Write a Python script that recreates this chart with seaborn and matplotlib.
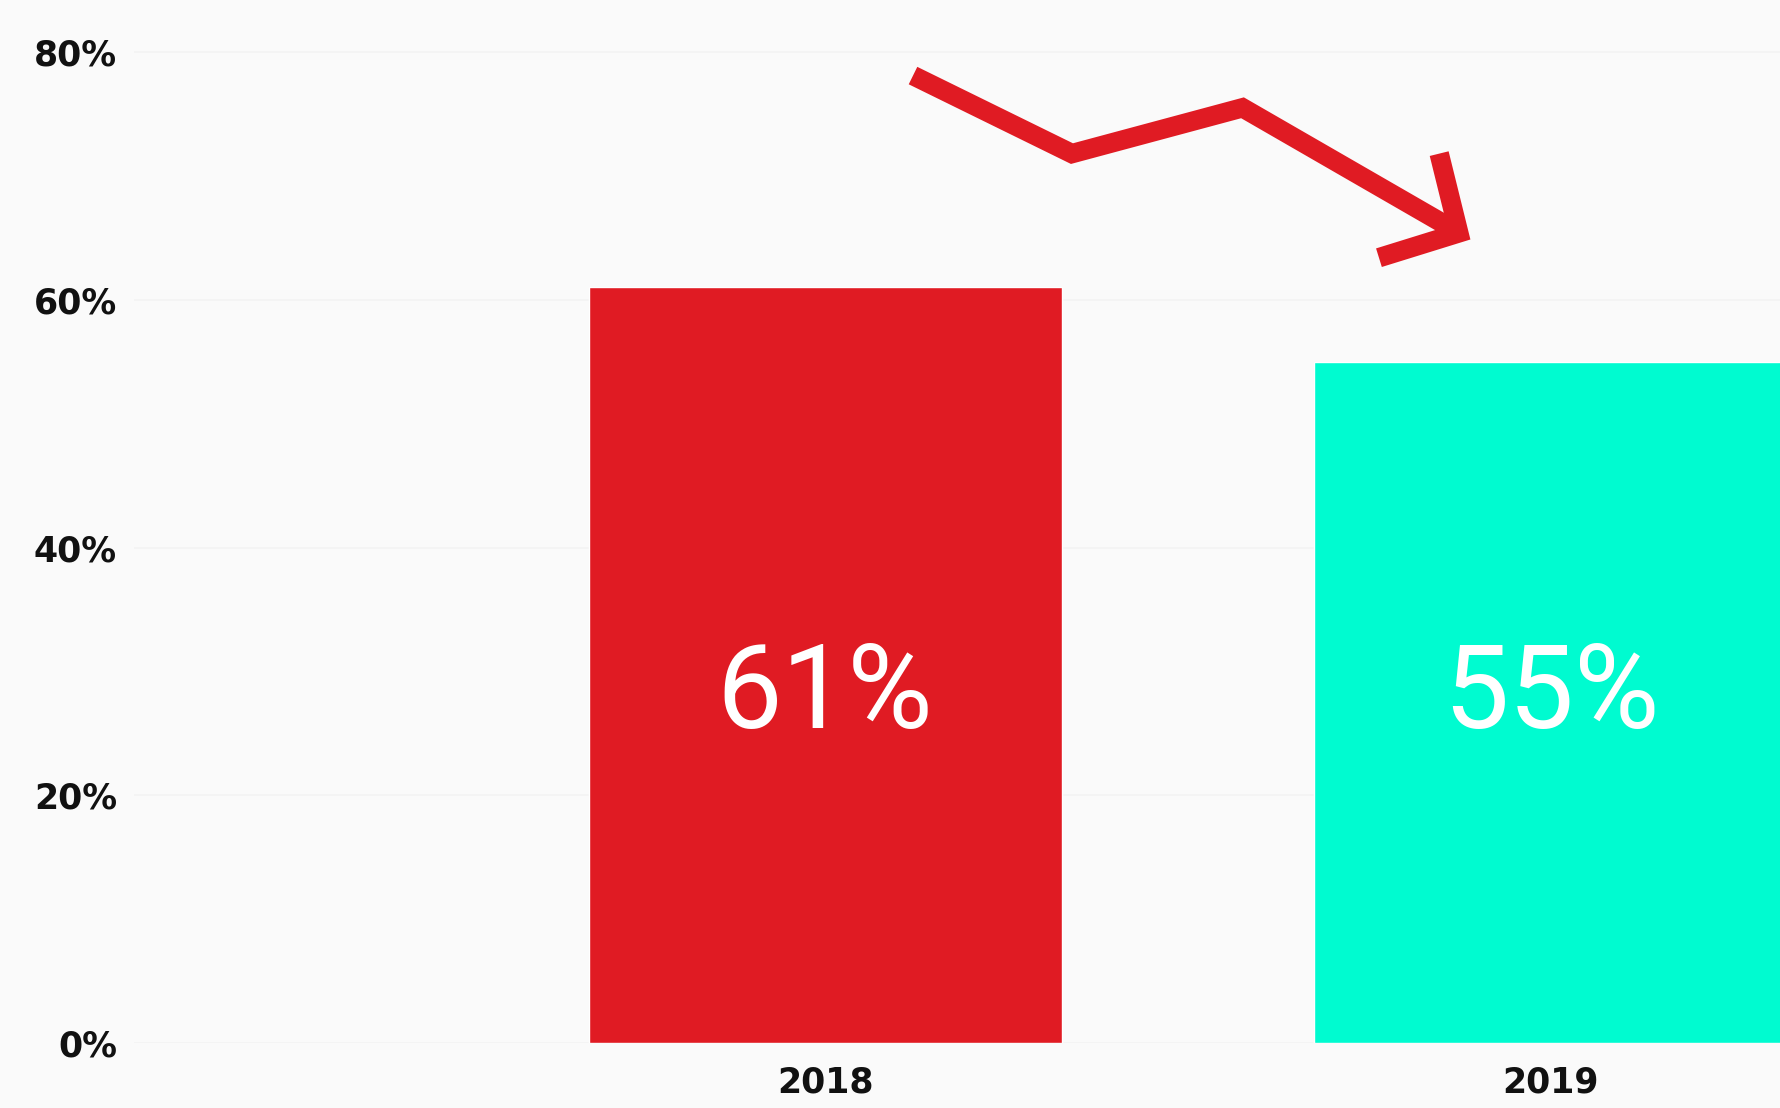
import matplotlib
matplotlib.use("Agg")
import matplotlib.pyplot as plt
import seaborn as sns

years = ["2018", "2019"]
shares = [61, 55]
bar_colors = ["#e01b23", "#00fbd0"]
bar_labels = ["61%", "55%"]
yticks = [0, 20, 40, 60, 80]
ytick_labels = ["0%", "20%", "40%", "60%", "80%"]

# zigzag "decline" arrow, in data units (x = category position, y = percent)
arrow_x = [0.121, 0.340, 0.575, 0.868]
arrow_y = [78.1, 71.8, 75.5, 65.6]
head_x = [0.846, 0.873, 0.763]
head_y = [71.8, 65.4, 63.4]

sns.set_style("white")
bg = "#fafafa"
fig = plt.figure(figsize=(17.81, 11.08), dpi=100, facecolor=bg)
ax = fig.add_axes([0.075, 0.0585, 0.925, 0.9415])
ax.set_facecolor(bg)

sns.barplot(x=years, y=shares, hue=years, palette=bar_colors, width=0.652,
            saturation=1, legend=False, ax=ax, zorder=2)

for i, lab in enumerate(bar_labels):
    ax.text(i, 28, lab, ha="center", va="center", color="white",
            fontsize=84, family="Roboto", zorder=3)

ax.plot(arrow_x, arrow_y, color="#e01b23", lw=14, solid_joinstyle="miter",
        solid_capstyle="butt", zorder=4)
ax.plot(head_x, head_y, color="#e01b23", lw=14, solid_joinstyle="miter",
        solid_capstyle="butt", zorder=4)

ax.set_xlim(-0.953, 1.317)
ax.set_ylim(0, 84.2)
ax.set_yticks(yticks)
ax.set_yticklabels(ytick_labels)
ax.yaxis.grid(True, color="#f3f3f3", lw=1.2, zorder=0)
ax.set_axisbelow(True)
for s in ax.spines.values():
    s.set_visible(False)
ax.tick_params(axis="both", length=0, labelsize=25)
ax.tick_params(axis="y", pad=12)
ax.tick_params(axis="x", pad=16)
for t in ax.get_xticklabels() + ax.get_yticklabels():
    t.set_fontweight("bold")
    t.set_family("DejaVu Sans")
    t.set_color("#111111")
ax.set_xlabel("")
ax.set_ylabel("")

fig.savefig("out.png", dpi=100, facecolor=bg)
